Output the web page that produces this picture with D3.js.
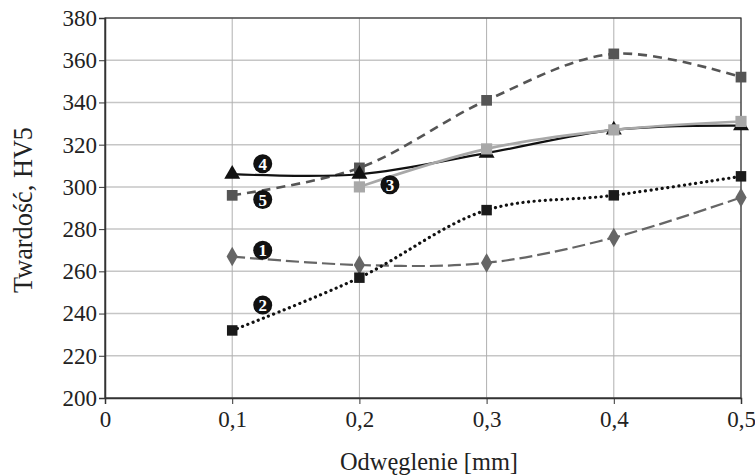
<!DOCTYPE html>
<html>
<head>
<meta charset="utf-8">
<script src="https://cdn.jsdelivr.net/npm/d3@7"></script>
<style>
  body { margin: 0; background: #fff; }
  text { font-family: "Liberation Serif", "Times New Roman", serif; fill: #222; }
</style>
</head>
<body>
<svg id="chart"></svg>
<script>
let xValues = [0.1, 0.2, 0.3, 0.4, 0.5];
let s1 = [267, 263, 264, 276, 295];
let s2 = [232, 257, 289, 296, 305];
let s3 = [null, 300, 318, 327, 331];
let s4 = [306, 306, 316, 327, 329];
let s5 = [296, 309, 341, 363, 352];
let xTicks = [0, 0.1, 0.2, 0.3, 0.4, 0.5];
let yTicks = [200, 220, 240, 260, 280, 300, 320, 340, 360, 380];
// circled series numbers placed on the chart
let labelText = ["1", "2", "3", "4", "5"];
let labelX = [0.124, 0.124, 0.224, 0.124, 0.124];
let labelY = [270, 244, 301, 311, 294];

let width = 755;
let height = 475;
let margin = { top: 18, right: 14, bottom: 77, left: 105 };

let x = d3.scaleLinear().domain([0, 0.5]).range([margin.left, width - margin.right]);
let y = d3.scaleLinear().domain([200, 380]).range([height - margin.bottom, margin.top]);

let svg = d3.select("#chart").attr("width", width).attr("height", height);

// grid
svg.append("g")
  .selectAll("line")
  .data(yTicks)
  .enter()
  .append("line")
  .attr("x1", margin.left)
  .attr("x2", width - margin.right)
  .attr("y1", (d) => y(d))
  .attr("y2", (d) => y(d))
  .attr("stroke", "#c6c6c6")
  .attr("stroke-width", 1.5);

svg.append("g")
  .selectAll("line")
  .data(xTicks)
  .enter()
  .append("line")
  .attr("x1", (d) => x(d))
  .attr("x2", (d) => x(d))
  .attr("y1", margin.top)
  .attr("y2", height - margin.bottom)
  .attr("stroke", "#b0b0b0")
  .attr("stroke-width", 1);

// frame
svg.append("rect")
  .attr("x", margin.left)
  .attr("y", margin.top)
  .attr("width", width - margin.left - margin.right)
  .attr("height", height - margin.top - margin.bottom)
  .attr("fill", "none")
  .attr("stroke", "#333")
  .attr("stroke-width", 1.2);

// axes
let xAxis = svg.append("g")
  .attr("transform", `translate(0,${height - margin.bottom})`)
  .call(d3.axisBottom(x).tickValues(xTicks).tickSize(6).tickPadding(7)
    .tickFormat((d) => d === 0 ? "0" : String(d).replace(".", ",")));
let yAxis = svg.append("g")
  .attr("transform", `translate(${margin.left},0)`)
  .call(d3.axisLeft(y).tickValues(yTicks).tickSize(6).tickPadding(2));
[xAxis, yAxis].forEach((a) => {
  a.select(".domain").attr("stroke", "#333").attr("stroke-width", 1.5);
  a.selectAll(".tick line").attr("stroke", "#333");
  a.selectAll("text").attr("font-size", 23).attr("font-family", "Liberation Serif").attr("fill", "#222");
});

svg.append("text")
  .attr("x", 429)
  .attr("y", 470)
  .attr("text-anchor", "middle")
  .attr("font-size", 25)
  .attr("textLength", 178)
  .attr("lengthAdjust", "spacingAndGlyphs")
  .text("Odwęglenie [mm]");

svg.append("text")
  .attr("transform", "translate(32,210) rotate(-90)")
  .attr("text-anchor", "middle")
  .attr("font-size", 27)
  .attr("textLength", 166)
  .attr("lengthAdjust", "spacingAndGlyphs")
  .text("Twardość, HV5");

let line = d3.line()
  .defined((d) => d[1] !== null)
  .x((d) => x(d[0]))
  .y((d) => y(d[1]))
  .curve(d3.curveCatmullRom.alpha(0.5));

let series = [
  { values: s1, color: "#666", width: 2.2, dash: "13,5", cap: "butt", marker: d3.symbolDiamond, msize: 110, mcolor: "#666" },
  { values: s2, color: "#111", width: 3.2, dash: "0.1,5.5", cap: "round", marker: d3.symbolSquare, msize: 110, mcolor: "#1a1a1a" },
  { values: s5, color: "#555", width: 2.6, dash: "9,6", cap: "butt", marker: d3.symbolSquare, msize: 115, mcolor: "#555" },
  { values: s4, color: "#111", width: 2.2, dash: null, cap: "butt", marker: d3.symbolTriangle, msize: 110, mcolor: "#111" },
  { values: s3, color: "#a8a8a8", width: 2.6, dash: null, cap: "butt", marker: d3.symbolSquare, msize: 125, mcolor: "#a8a8a8" }
];

series.forEach((s) => {
  let pts = xValues.map((v, i) => [v, s.values[i]]);
  svg.append("path")
    .datum(pts.filter((p) => p[1] !== null))
    .attr("d", line)
    .attr("fill", "none")
    .attr("stroke", s.color)
    .attr("stroke-width", s.width)
    .attr("stroke-linecap", s.cap)
    .attr("stroke-dasharray", s.dash);
});

series.forEach((s) => {
  let pts = xValues.map((v, i) => [v, s.values[i]]).filter((p) => p[1] !== null);
  svg.append("g")
    .selectAll("path")
    .data(pts)
    .enter()
    .append("path")
    .attr("transform", (d) => `translate(${x(d[0])},${y(d[1])})`)
    .attr("d", d3.symbol().type(s.marker).size(s.msize))
    .attr("fill", s.mcolor);
});

// circled labels
let labels = svg.append("g")
  .selectAll("g")
  .data(labelText.map((t, i) => [t, labelX[i], labelY[i]]))
  .enter()
  .append("g")
  .attr("transform", (d) => `translate(${x(d[1])},${y(d[2])})`);
labels.append("circle").attr("r", 9.5).attr("fill", "#111");
labels.append("text")
  .attr("text-anchor", "middle")
  .attr("dy", "0.36em")
  .attr("font-size", 17)
  .attr("font-weight", "bold")
  .style("fill", "#fff")
  .text((d) => d[0]);
</script>
</body>
</html>
